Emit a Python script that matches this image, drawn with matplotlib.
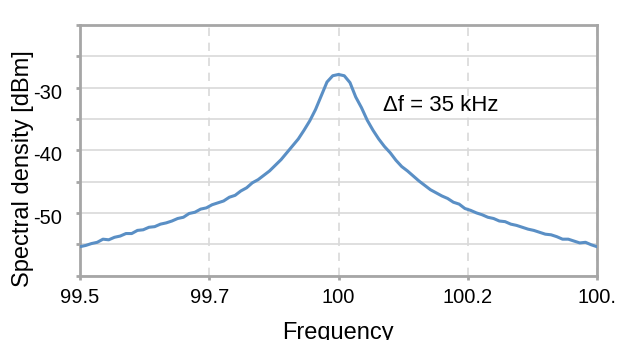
import matplotlib.pyplot as plt
from matplotlib.patches import Rectangle
from matplotlib.transforms import ScaledTranslation

plt.rcParams['font.family'] = ['Liberation Sans', 'DejaVu Sans']

# spectrum, 10 kHz steps (frequency in MHz, level in dBm)
freq = [99.50, 99.51, 99.52, 99.53, 99.54, 99.55, 99.56, 99.57, 99.58, 99.59,
        99.60, 99.61, 99.62, 99.63, 99.64, 99.65, 99.66, 99.67, 99.68, 99.69,
        99.70, 99.71, 99.72, 99.73, 99.74, 99.75, 99.76, 99.77, 99.78, 99.79,
        99.80, 99.81, 99.82, 99.83, 99.84, 99.85, 99.86, 99.87, 99.88, 99.89,
        99.90, 99.91, 99.92, 99.93, 99.94, 99.95, 99.96, 99.97, 99.98, 99.99,
        100.00, 100.01, 100.02, 100.03, 100.04, 100.05, 100.06, 100.07, 100.08, 100.09,
        100.10, 100.11, 100.12, 100.13, 100.14, 100.15, 100.16, 100.17, 100.18, 100.19,
        100.20, 100.21, 100.22, 100.23, 100.24, 100.25, 100.26, 100.27, 100.28, 100.29,
        100.30, 100.31, 100.32, 100.33, 100.34, 100.35, 100.36, 100.37, 100.38, 100.39,
        100.40]
level = [-55.4, -55.2, -54.9, -54.7, -54.2, -54.3, -53.9, -53.7, -53.3, -53.3,
         -52.8, -52.7, -52.3, -52.2, -51.8, -51.6, -51.3, -50.9, -50.7, -50.1,
         -49.9, -49.4, -49.2, -48.7, -48.4, -48.1, -47.5, -47.2, -46.5, -46.0,
         -45.2, -44.7, -44.0, -43.3, -42.4, -41.5, -40.4, -39.3, -38.2, -36.8,
         -35.3, -33.5, -31.3, -29.1, -28.1, -27.9, -28.1, -29.2, -31.5, -33.2,
         -35.2, -36.8, -38.2, -39.4, -40.4, -41.6, -42.6, -43.3, -44.1, -44.9,
         -45.6, -46.3, -46.8, -47.3, -47.7, -48.3, -48.6, -49.3, -49.6, -50.0,
         -50.3, -50.7, -50.9, -51.3, -51.4, -51.8, -52.0, -52.3, -52.6, -52.8,
         -53.1, -53.4, -53.5, -53.8, -54.2, -54.2, -54.5, -54.8, -54.7, -55.1,
         -55.4]

xticks = [99.5, 99.725, 99.95, 100.175, 100.4]
xtick_labels = ['99.5', '99.7', '100', '100.2', '100.']
yticks_major = [-30, -40, -50]
yticks_minor = [-20, -25, -35, -45, -55, -60]

W, H = 624, 357
fig = plt.figure(figsize=(W / 100, H / 100), dpi=100)
ax = fig.add_axes([80 / W, 1 - 275.5 / H, 517 / W, 250.5 / H])

ax.plot(freq, level, color='#5A8FC5', lw=2.2, zorder=3)

ax.set_xlim(99.5, 100.4)
ax.set_ylim(-60, -20)
ax.set_xticks(xticks)
ax.set_xticklabels(xtick_labels, fontsize=14.5)
ax.set_yticks(yticks_major)
ax.set_yticklabels([str(v) for v in yticks_major], fontsize=14.5)
ax.set_yticks(yticks_minor, minor=True)

ax.grid(axis='y', which='both', color='#D9D9D9', lw=1.2)
ax.grid(axis='x', which='major', color='#D9D9D9', lw=1.2, ls=(0, (5, 4)))
ax.set_axisbelow(True)

for s in ax.spines.values():
    s.set_color('#A6A6A6')
    s.set_linewidth(2)
ax.tick_params(which='both', direction='out', color='#A6A6A6', width=2, length=3)
ax.tick_params(axis='y', pad=10)
ax.tick_params(axis='x', pad=6)
# y labels sit a little below their gridlines in the original
shift = ScaledTranslation(0, -3.5 / 100, fig.dpi_scale_trans)
for lbl in ax.get_yticklabels():
    lbl.set_transform(lbl.get_transform() + shift)

ax.text(0.587, 0.657, '\u0394f = 35 kHz', transform=ax.transAxes, fontsize=16,
        va='baseline')

fig.text(23 / W, 1 - 169 / H, 'Spectral density [dBm]', rotation=90,
         ha='center', va='center', fontsize=17)
fig.text(338 / W, 1 - 339.5 / H, 'Frequency', ha='center', va='baseline', fontsize=17)
# the original image is cut off just below the axis title
fig.patches.append(Rectangle((0, 0), 1, (H - 340) / H, transform=fig.transFigure,
                             facecolor='white', edgecolor='none', zorder=10))

fig.savefig('out.png', dpi=100)
